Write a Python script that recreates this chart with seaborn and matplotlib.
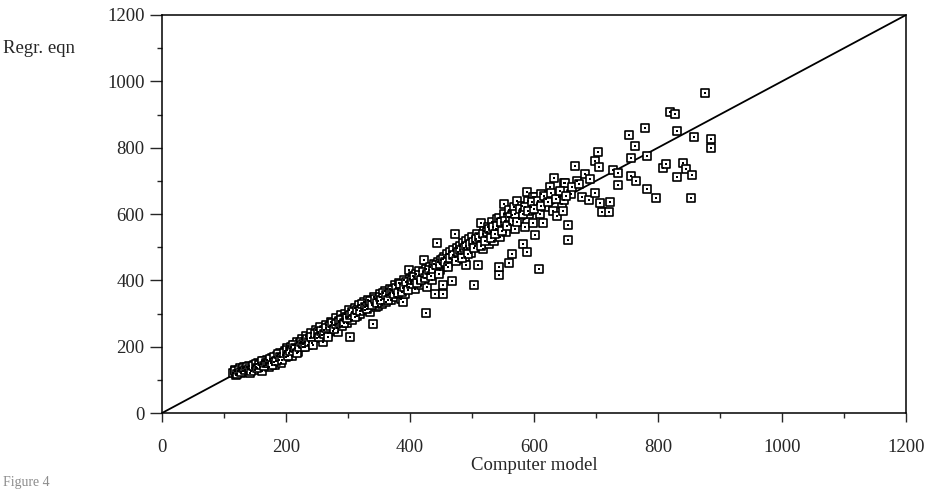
import numpy as np
import pandas as pd
import matplotlib
matplotlib.use("Agg")
import matplotlib.pyplot as plt
import seaborn as sns
from matplotlib.ticker import MultipleLocator

# values: computer model (x) vs regression equation (y)
computer_model = [
    115, 118, 120, 122, 125, 127, 130, 132, 135, 138, 140, 142, 145, 148, 150, 152, 155, 158, 160, 162,
    165, 168, 170, 172, 175, 178, 180, 182, 185, 188, 190, 192, 195, 198, 200, 202, 205, 208, 210, 212,
    215, 218, 220, 222, 225, 228, 230, 232, 235, 238, 240, 242, 245, 248, 250, 252, 255, 258, 260, 262,
    265, 268, 270, 272, 275, 278, 280, 282, 284, 286, 288, 290, 292, 295, 298, 300, 302, 304, 306, 310,
    312, 315, 318, 320, 322, 325, 328, 330, 332, 335, 338, 341, 342, 345, 348, 349, 352, 355, 358, 360,
    362, 365, 368, 370, 372, 375, 378, 380, 382, 385, 388, 389, 390, 392, 395, 398, 399, 400,
    402, 405, 408, 410, 412, 415, 418, 420, 423, 425, 426, 428, 430, 432, 435, 438, 440, 441, 443, 445,
    448, 450, 452, 454, 454, 455, 458, 460, 462, 465, 467, 468, 470, 472, 473, 475, 478, 480, 482, 485,
    488, 490, 490, 492, 495, 498, 500,
    503, 505, 508, 510, 512, 515, 518, 520, 522, 525, 528, 530, 532, 535, 538, 540, 544, 544, 544, 545,
    548, 551, 552, 555, 558, 559, 560, 562, 564, 565, 568, 570, 572, 575, 578, 580, 582, 585, 588, 588,
    590, 592, 595, 598,
    599, 602, 602, 605, 608, 610, 612, 615, 618, 620, 626, 630, 633, 637, 640, 645, 647, 648, 648, 650,
    655, 655, 660, 666, 669, 677, 682, 689, 698, 698, 703, 705, 707, 709, 721, 722, 728, 736, 736, 753,
    756, 757, 763, 764, 779, 783, 783, 796, 808, 813, 819, 827, 830, 830, 841, 845, 854, 855, 858, 876,
    885, 885,
]
regr_eqn = [
    122, 130, 115, 126, 135, 120, 128, 138, 125, 132, 142, 122, 135, 146, 130, 140, 150, 138, 148, 128,
    156, 145, 160, 140, 150, 165, 155, 145, 172, 160, 180, 152, 175, 188, 168, 195, 180, 200, 172, 190,
    205, 215, 185, 210, 222, 198, 215, 232, 205, 225, 240, 212, 230, 250, 225, 240, 258, 235, 215, 250,
    265, 240, 258, 275, 248, 265, 285, 255, 245, 278, 295, 262, 282, 300, 270, 290, 310, 230, 280, 300,
    318, 292, 325, 300, 315, 335, 310, 322, 340, 305, 330, 267, 350, 320, 338, 322, 360, 330, 345, 368,
    335, 355, 375, 340, 362, 385, 350, 370, 392, 345, 378, 336, 400, 360, 385, 430, 379, 405,
    395, 412, 375, 420, 398, 428, 385, 410, 461, 435, 303, 381, 418, 440, 400, 448, 425, 359, 512, 455,
    430, 462, 440, 386, 359, 470, 445, 478, 452, 485, 399, 460, 490, 470, 540, 498, 465, 505, 480, 512,
    470, 447, 520, 495, 525, 482, 530,
    385, 505, 540, 447, 520, 574, 495, 548, 530, 560, 510, 545, 575, 520, 555, 585, 417, 441, 587, 530,
    565, 630, 600, 545, 590, 453, 612, 570, 479, 598, 620, 555, 640, 585, 605, 625, 511, 560, 486, 667,
    640, 600, 620, 650,
    572, 537, 650, 630, 435, 600, 660, 572, 620, 645, 680, 610, 710, 593, 650, 630, 610, 692, 642, 692,
    567, 522, 660, 745, 700, 652, 720, 642, 662, 761, 788, 743, 634, 605, 605, 635, 733, 725, 687, 838,
    715, 768, 806, 700, 858, 775, 675, 649, 738, 751, 908, 901, 851, 712, 755, 737, 649, 718, 833, 964,
    826, 800,
]
# extra points filling the dense band along the diagonal
band_points = [
    (117, 128), (121, 119), (124, 131), (128, 124), (131, 135), (134, 129), (137, 140), (141, 133),
    (144, 128), (147, 141), (151, 148), (154, 136), (157, 145), (161, 156), (164, 142), (167, 152),
    (171, 150), (174, 162), (177, 146), (181, 170), (184, 158), (187, 178), (191, 168), (194, 160),
    (197, 182), (201, 190), (204, 172), (207, 188), (211, 205), (214, 195), (217, 182), (221, 200),
    (224, 215), (227, 208), (231, 198), (234, 222), (237, 215), (241, 230), (244, 205), (247, 238),
    (251, 245), (254, 228), (257, 248), (261, 238), (264, 255), (267, 230), (271, 262), (274, 270),
    (277, 252), (281, 268), (285, 275), (289, 280), (293, 270), (296, 290), (299, 285), (303, 295),
    (307, 305), (311, 290), (314, 312), (319, 308), (323, 328), (327, 320), (331, 315), (336, 338),
    (339, 325), (344, 345), (347, 332), (351, 350), (354, 342), (357, 362), (361, 355), (364, 340),
    (367, 362), (371, 372), (374, 358), (377, 378), (381, 362), (384, 388), (387, 365), (391, 380),
    (394, 395), (397, 372), (401, 390), (404, 400), (407, 410), (411, 392), (414, 415), (417, 402),
    (421, 425), (424, 408), (427, 420), (431, 432), (434, 412), (437, 435), (442, 445), (446, 420),
    (449, 450), (453, 465), (457, 455), (461, 440), (464, 468), (469, 475), (474, 458), (477, 485),
    (481, 490), (484, 468), (487, 498), (491, 505), (494, 480), (497, 510), (501, 515), (504, 498),
    (507, 525), (511, 530), (514, 505), (517, 540), (521, 520), (524, 545), (527, 555), (531, 528),
    (534, 560), (537, 540), (541, 565), (546, 575), (549, 548), (553, 580), (556, 565), (561, 590),
    (566, 580), (569, 600), (573, 575), (577, 615), (583, 600), (586, 620), (591, 610), (596, 635),
    (600, 615), (606, 640), (611, 625), (616, 655), (622, 635), (628, 662), (635, 645), (642, 670),
    (652, 655), (662, 680), (672, 690), (690, 705),
]
line_x = [0, 1200]
line_y = [0, 1200]
x_ticks = [0, 200, 400, 600, 800, 1000, 1200]
y_ticks = [0, 200, 400, 600, 800, 1000, 1200]

band_x = [p[0] for p in band_points]
band_y = [p[1] for p in band_points]
df = pd.DataFrame({"Computer model": computer_model + band_x, "Regr. eqn": regr_eqn + band_y})

sns.set_style("ticks")
plt.rcParams["font.family"] = ["Liberation Serif", "DejaVu Serif"]

fig = plt.figure(figsize=(9.3, 4.9), dpi=100)
ax = fig.add_axes([0.1742, 0.1571, 0.80, 0.8123])

sns.lineplot(x=line_x, y=line_y, ax=ax, color="black", linewidth=1.3, zorder=1)
sns.scatterplot(data=df, x="Computer model", y="Regr. eqn", ax=ax, marker="s", s=28,
                facecolor="white", edgecolor="black", linewidth=1.2, zorder=2)
sns.scatterplot(data=df, x="Computer model", y="Regr. eqn", ax=ax, marker="s", s=2,
                color="black", linewidth=0, zorder=3)

ax.set_xlim(0, 1200)
ax.set_ylim(0, 1200)
ax.set_xticks(x_ticks)
ax.set_yticks(y_ticks)
ax.xaxis.set_minor_locator(MultipleLocator(100))
ax.yaxis.set_minor_locator(MultipleLocator(100))
ax.tick_params(axis="x", which="major", direction="out", length=6.5, width=1, pad=12, labelsize=13.5)
ax.tick_params(axis="y", which="major", direction="out", length=8.5, width=1, pad=4, labelsize=13.5)
ax.tick_params(which="minor", direction="out", length=3.5, width=1)
for sp in ax.spines.values():
    sp.set_visible(True)
    sp.set_linewidth(1.1)
    sp.set_color("black")

ax.set_xlabel("Computer model", fontsize=13.5, labelpad=1)
ax.set_ylabel("")
fig.text(0.003, 0.902, "Regr. eqn", fontsize=13.5, ha="left", va="center")
fig.text(0.003, 0.003, "Figure 4", fontsize=10, color="0.55", ha="left", va="bottom")

fig.savefig("out.png", dpi=100)
